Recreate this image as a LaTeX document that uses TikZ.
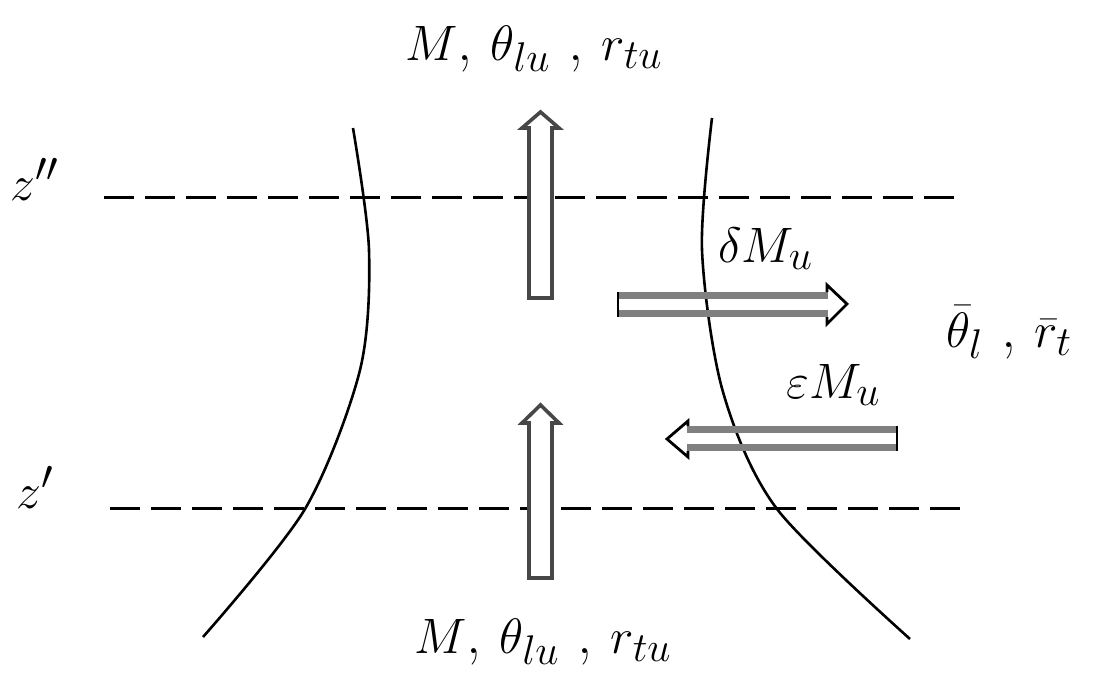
\documentclass[tikz,border=0pt]{standalone}
\begin{document}
\begin{tikzpicture}[x=0.5pt,y=-0.5pt,
  lbl/.style={inner sep=0pt,font=\fontsize{30}{36}\selectfont},
  bound/.style={line width=1.3pt,black},
  level/.style={line width=1.5pt,dash pattern=on 15pt off 5.5pt},
  vshaft/.style={line width=1.8pt,draw=black!72,fill=white,line join=miter},
  hband/.style={line width=3.5pt,black!50},
  hcap/.style={line width=1.4pt,black}]
\useasboundingbox (0,0) rectangle (1093,675);
% boundaries
\draw[bound] plot[smooth] coordinates {(353,128) (369,250) (360,370) (305,509) (203,637)};
\draw[bound] plot[smooth] coordinates {(712,118) (702,250) (723,392) (777,509) (910,639)};
% levels
\coordinate (zt1) at (104,197); \coordinate (zt2) at (962,197);
\coordinate (zb1) at (110,508); \coordinate (zb2) at (962,508);
\draw[level] (zt1) -- (zt2);
\draw[level] (zb1) -- (zb2);
\node[lbl,anchor=base west] (ztl) at (10,200) {$z''$};
\node[lbl,anchor=base west] (zbl) at (16,508) {$z'$};
% vertical arrows
\draw[vshaft] (529,298) -- (529,128) -- (522,128) -- (540.5,112) -- (559,128) -- (552,128) -- (552,298) -- cycle;
\draw[vshaft] (529,578) -- (529,423) -- (522,423) -- (540.5,405) -- (559,423) -- (552,423) -- (552,578) -- cycle;
% delta arrow (right)
\draw[hband] (618,295.5) -- (828,295.5);
\draw[hband] (618,313) -- (828,313);
\draw[hcap] (618,292) -- (618,317);
\draw[hcap,line join=miter] (827,292) -- (827,285) -- (847,304) -- (827,324) -- (827,317);
% epsilon arrow (left)
\draw[hband] (687,429.5) -- (897,429.5);
\draw[hband] (687,447.5) -- (897,447.5);
\draw[hcap] (897,426) -- (897,451);
\draw[hcap,line join=miter] (688,426) -- (688,421) -- (667,439) -- (688,457) -- (688,451);
% labels
\node[lbl,anchor=base] (top) at (534,60) {$M$, $\theta_{lu}$ , $r_{tu}$};
\node[lbl,anchor=base] (bot) at (543,653) {$M$, $\theta_{lu}$ , $r_{tu}$};
\node[lbl,anchor=base west] (dm) at (718,262) {$\delta M_u$};
\node[lbl,anchor=base west] (em) at (786,398) {$\varepsilon M_u$};
\node[lbl,anchor=base west] (env) at (946,347) {$\bar\theta_l$ , $\bar r_t$};
\end{tikzpicture}
\end{document}
